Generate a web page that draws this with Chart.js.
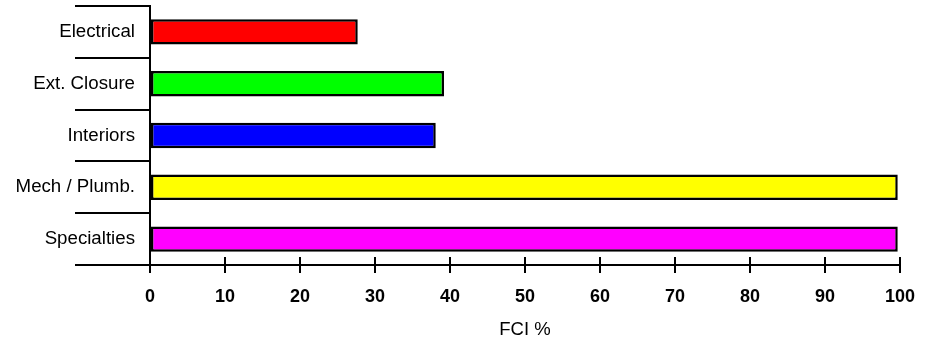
<!DOCTYPE html>
<html>
<head>
<meta charset="utf-8">
<script src="https://cdn.jsdelivr.net/npm/chart.js@4/dist/chart.umd.min.js"></script>
<style>
  html, body { margin: 0; padding: 0; background: #fff; }
  #wrap { width: 933px; height: 342px; }
</style>
</head>
<body>
<div id="wrap"><canvas id="fciChart" width="933" height="342"></canvas></div>
<script>
  var categories = ["Electrical", "Ext. Closure", "Interiors", "Mech / Plumb.", "Specialties"];
  var fciValues = [27.7, 39.2, 38.1, 99.7, 99.7];
  var barColors = ["#ff0000", "#00ff00", "#0000ff", "#ffff00", "#ff00ff"];
  var xTicks = [0, 10, 20, 30, 40, 50, 60, 70, 80, 90, 100];

  Chart.defaults.font.family = "'Liberation Sans', Arial, sans-serif";
  Chart.defaults.color = "#000";

  // tick marks on the x axis cross the line, chart.js only draws the outer half
  var crossTicks = {
    id: 'crossTicks',
    afterDraw: function(chart) {
      var xs = chart.scales.x;
      var ctx = chart.ctx;
      ctx.save();
      ctx.strokeStyle = '#000';
      ctx.lineWidth = 2;
      xTicks.forEach(function(v) {
        var px = Math.round(xs.getPixelForValue(v));
        ctx.beginPath();
        ctx.moveTo(px, xs.top - 8);
        ctx.lineTo(px, xs.top);
        ctx.stroke();
      });
      ctx.restore();
    }
  };

  var fciChart = new Chart(document.getElementById('fciChart'), {
    type: 'bar',
    data: {
      labels: categories,
      datasets: [{
        data: fciValues,
        backgroundColor: barColors,
        borderColor: '#000',
        borderWidth: 2.5,
        borderSkipped: false,
        categoryPercentage: 1,
        barPercentage: 0.49
      }]
    },
    options: {
      indexAxis: 'y',
      responsive: false,
      animation: false,
      layout: { padding: { top: 6, right: 33, left: 0, bottom: 0 } },
      plugins: {
        legend: { display: false },
        tooltip: { enabled: false }
      },
      scales: {
        x: {
          min: 0,
          max: 100,
          afterBuildTicks: function(scale) {
            scale.ticks = xTicks.map(function(v) { return { value: v }; });
          },
          afterFit: function(scale) { scale.height = 77; },
          grid: {
            drawOnChartArea: false,
            color: '#000',
            lineWidth: 2,
            tickLength: 8
          },
          border: { display: true, color: '#000', width: 2 },
          ticks: {
            padding: 13,
            maxRotation: 0,
            font: { size: 18, weight: 'bold' }
          },
          title: {
            display: true,
            text: 'FCI %',
            font: { size: 18.5 },
            padding: { top: 0, bottom: 1 }
          }
        },
        y: {
          afterFit: function(scale) { scale.width = 150; },
          grid: {
            offset: true,
            drawOnChartArea: false,
            color: '#000',
            lineWidth: 2,
            tickLength: 75
          },
          border: { display: true, color: '#000', width: 2 },
          ticks: {
            padding: -60,
            font: { size: 18.7 }
          }
        }
      }
    },
    plugins: [crossTicks]
  });
</script>
</body>
</html>
